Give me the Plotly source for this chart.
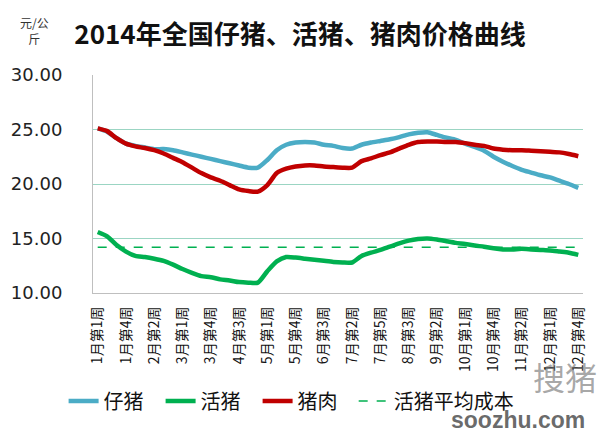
import plotly.graph_objects as go

# ---- data ----
month_weeks = [5, 4, 4, 5, 4, 4, 5, 4, 4, 5, 4, 4]
weeks = [f"{m}月第{w}周" for m, n in enumerate(month_weeks, 1) for w in range(1, n + 1)]
tick_labels = weeks[::3]

piglet = [25.1, 24.8, 24.2, 23.7, 23.5, 23.35, 23.2, 23.2, 23.1, 22.9,
          22.7, 22.5, 22.3, 22.1, 21.9, 21.7, 21.5, 21.5, 22.2, 23.1,
          23.6, 23.8, 23.85, 23.8, 23.6, 23.5, 23.3, 23.25, 23.6, 23.8,
          23.95, 24.1, 24.3, 24.55, 24.7, 24.75, 24.5, 24.25, 24.05, 23.7,
          23.4, 23.05, 22.5, 22.05, 21.65, 21.3, 21.05, 20.8, 20.6, 20.3,
          20.0, 19.65]
hog = [15.6, 15.2, 14.4, 13.8, 13.4, 13.3, 13.15, 12.95, 12.6, 12.2,
       11.85, 11.55, 11.45, 11.25, 11.15, 11.0, 10.95, 10.95, 12.0, 12.9,
       13.3, 13.25, 13.15, 13.05, 12.95, 12.85, 12.8, 12.8, 13.4, 13.7,
       13.95, 14.25, 14.55, 14.8, 14.95, 15.0, 14.9, 14.75, 14.6, 14.5,
       14.35, 14.25, 14.1, 14.0, 14.0, 14.05, 14.0, 13.95, 13.9, 13.8,
       13.7, 13.5]
pork = [25.1, 24.85, 24.2, 23.7, 23.45, 23.3, 23.1, 22.8, 22.4, 22.0,
        21.5, 21.0, 20.6, 20.3, 19.9, 19.5, 19.35, 19.3, 19.9, 21.0,
        21.4, 21.6, 21.7, 21.7, 21.6, 21.55, 21.5, 21.5, 22.1, 22.35,
        22.65, 22.9, 23.25, 23.6, 23.85, 23.9, 23.9, 23.85, 23.85, 23.75,
        23.6, 23.5, 23.25, 23.15, 23.1, 23.1, 23.05, 23.0, 22.95, 22.9,
        22.75, 22.55]
hog_cost_value = 14.2
hog_cost = [hog_cost_value] * len(weeks)

names = ["仔猪", "活猪", "猪肉", "活猪平均成本"]
colors = ["#4BACC6", "#00B050", "#C00000", "#00B050"]

fig = go.Figure()
for name, ys, col in zip(names[:3], [piglet, hog, pork], colors[:3]):
    fig.add_trace(go.Scatter(
        x=weeks, y=ys, name=name, mode="lines", legend="legend",
        line=dict(color=col, width=4.5, shape="spline", smoothing=0.6),
    ))
fig.add_trace(go.Scatter(
    x=weeks, y=hog_cost, name=names[3], mode="lines", legend="legend2",
    line=dict(color=colors[3], width=1.5, dash="dash"),
))

legend_font = dict(family="Noto Sans CJK SC", size=20, color="#111111")
legend_y = (293 - 401) / 218
fig.update_layout(
    width=600, height=432,
    margin=dict(l=93, r=17, t=75, b=139),
    paper_bgcolor="white", plot_bgcolor="white",
    title=dict(
        text="<b>2014年全国仔猪、活猪、猪肉价格曲线</b>",
        x=0.5, xanchor="center", xref="container",
        y=1 - 35 / 432, yanchor="middle", yref="container",
        font=dict(family="Noto Sans CJK SC", size=26, color="#111111"),
    ),
    showlegend=True,
    legend=dict(
        orientation="h", x=-0.06, xanchor="left", y=legend_y, yanchor="middle",
        font=legend_font, bgcolor="rgba(0,0,0,0)", traceorder="normal",
        entrywidth=52, entrywidthmode="pixels",
    ),
    legend2=dict(
        orientation="h", x=0.532, xanchor="left", y=legend_y, yanchor="middle",
        font=legend_font, bgcolor="rgba(0,0,0,0)",
    ),
    xaxis=dict(
        type="category", tickmode="array", tickvals=tick_labels, ticktext=tick_labels,
        tickangle=-90, showgrid=False, showline=True, linecolor="#BFBFBF", linewidth=1,
        ticks="", ticklabelstandoff=7,
        tickfont=dict(family="Noto Sans CJK SC", size=14, color="#111111"),
        range=[-0.5, len(weeks) - 0.5],
    ),
    yaxis=dict(
        range=[10, 30], dtick=5, tickformat=".2f",
        showgrid=True, gridcolor="#9BD5C3", gridwidth=1,
        showline=True, linecolor="#BFBFBF", linewidth=1, zeroline=False,
        ticks="", ticklabelstandoff=26,
        tickfont=dict(family="DejaVu Sans", size=18, color="#222222"),
    ),
    annotations=[
        dict(text="元/公<br>斤", xref="paper", yref="paper",
             x=-0.12, y=1 + 45 / 218, xanchor="center", yanchor="middle",
             showarrow=False, align="center",
             font=dict(family="Noto Sans CJK SC", size=12, color="#333333")),
        dict(text="<b>soozhu.com</b>", xref="paper", yref="paper",
             x=(518 - 93) / 490, y=(293 - 420) / 218, xanchor="center", yanchor="middle",
             showarrow=False,
             font=dict(family="Liberation Sans", size=23, color="rgba(80,80,80,0.85)")),
        dict(text="搜猪", xref="paper", yref="paper",
             x=(565 - 93) / 490, y=(293 - 376) / 218, xanchor="center", yanchor="middle",
             showarrow=False,
             font=dict(family="Noto Sans CJK SC", size=32, color="rgba(110,110,110,0.6)")),
    ],
)

fig.write_html("out.html")
